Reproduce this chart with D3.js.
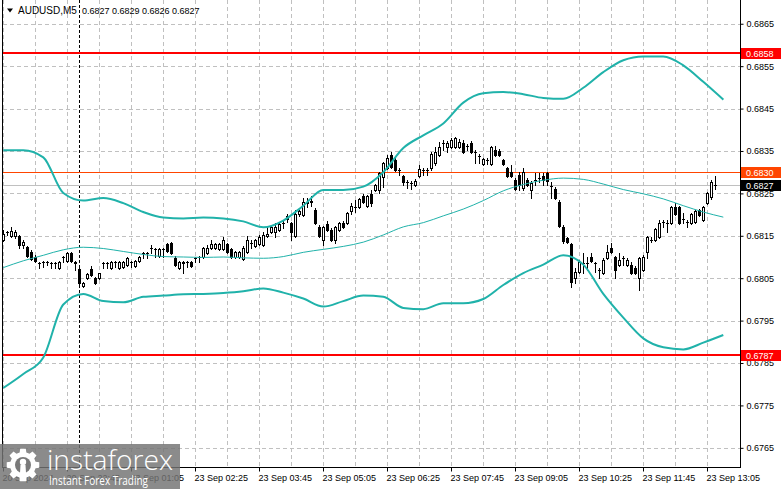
<!DOCTYPE html>
<html><head><meta charset="utf-8">
<script src="https://cdn.jsdelivr.net/npm/d3@7"></script>
<style>html,body{margin:0;padding:0;background:#fff;overflow:hidden}
svg{display:block;font-family:"Liberation Sans",Arial,sans-serif}</style>
</head><body><svg id="c" width="781" height="489"></svg>
<script>
// ---------------- DATA ----------------
const symbolName = "AUDUSD,M5";
const lastBarOHLC = ["0.6827", "0.6829", "0.6826", "0.6827"];
const firstBarIndex = -19; // bar 0 = 23 Sep 00:00 (M5 bars)
const opens = [
0.68140,0.68159,0.68150,0.68150,0.68150,0.68128,0.68124,0.68112,0.68100,0.68086,
0.68088,0.68088,0.68086,0.68086,0.68074,0.68100,0.68091,0.68109,0.68088,0.68072,
0.68032,0.68051,0.68072,0.68051,0.68051,0.68086,0.68086,0.68074,0.68088,0.68074,
0.68076,0.68081,0.68088,0.68079,0.68091,0.68109,0.68109,0.68121,0.68119,0.68102,
0.68119,0.68131,0.68133,0.68098,0.68074,0.68088,0.68088,0.68088,0.68098,0.68100,
0.68100,0.68109,0.68121,0.68121,0.68119,0.68119,0.68131,0.68119,0.68100,0.68100,
0.68095,0.68112,0.68133,0.68126,0.68131,0.68128,0.68150,0.68159,0.68159,0.68164,
0.68180,0.68190,0.68180,0.68150,0.68201,0.68199,0.68227,0.68230,0.68211,0.68171,
0.68140,0.68178,0.68164,0.68140,0.68164,0.68180,0.68180,0.68208,0.68218,0.68218,
0.68244,0.68220,0.68249,0.68258,0.68258,0.68289,0.68310,0.68341,0.68329,0.68305,
0.68291,0.68277,0.68274,0.68270,0.68291,0.68305,0.68305,0.68310,0.68322,0.68341,
0.68369,0.68359,0.68359,0.68359,0.68359,0.68369,0.68362,0.68369,0.68348,0.68338,
0.68319,0.68329,0.68319,0.68352,0.68350,0.68329,0.68310,0.68300,0.68282,0.68293,
0.68263,0.68282,0.68258,0.68282,0.68286,0.68291,0.68298,0.68267,0.68260,0.68230,
0.68171,0.68145,0.68131,0.68051,0.68065,0.68086,0.68086,0.68100,0.68086,0.68069,
0.68062,0.68098,0.68121,0.68100,0.68081,0.68098,0.68081,0.68081,0.68074,0.68051,
0.68069,0.68112,0.68140,0.68140,0.68147,0.68182,0.68180,0.68180,0.68218,0.68218,
0.68190,0.68182,0.68180,0.68182,0.68211,0.68187,0.68227,0.68241,0.68270];
const highs = [
0.68164,0.68161,0.68171,0.68164,0.68152,0.68140,0.68126,0.68117,0.68105,0.68088,
0.68091,0.68091,0.68088,0.68088,0.68091,0.68102,0.68112,0.68112,0.68091,0.68081,
0.68041,0.68062,0.68079,0.68053,0.68062,0.68088,0.68088,0.68091,0.68091,0.68091,
0.68091,0.68100,0.68091,0.68093,0.68102,0.68112,0.68112,0.68128,0.68121,0.68121,
0.68121,0.68133,0.68135,0.68102,0.68091,0.68091,0.68091,0.68091,0.68100,0.68102,
0.68124,0.68128,0.68140,0.68133,0.68133,0.68147,0.68133,0.68121,0.68114,0.68114,
0.68126,0.68150,0.68140,0.68142,0.68152,0.68159,0.68171,0.68173,0.68180,0.68182,
0.68187,0.68201,0.68182,0.68211,0.68211,0.68239,0.68239,0.68244,0.68215,0.68175,
0.68173,0.68185,0.68168,0.68173,0.68182,0.68185,0.68206,0.68227,0.68234,0.68239,
0.68249,0.68246,0.68258,0.68272,0.68300,0.68324,0.68341,0.68348,0.68333,0.68310,
0.68293,0.68282,0.68279,0.68284,0.68317,0.68310,0.68310,0.68348,0.68359,0.68371,
0.68376,0.68373,0.68381,0.68383,0.68378,0.68376,0.68366,0.68373,0.68352,0.68343,
0.68333,0.68333,0.68362,0.68362,0.68355,0.68331,0.68312,0.68317,0.68286,0.68300,
0.68310,0.68286,0.68279,0.68298,0.68298,0.68298,0.68300,0.68277,0.68265,0.68234,
0.68175,0.68147,0.68133,0.68074,0.68093,0.68109,0.68100,0.68109,0.68088,0.68074,
0.68098,0.68128,0.68133,0.68102,0.68109,0.68102,0.68098,0.68088,0.68079,0.68100,
0.68105,0.68150,0.68147,0.68168,0.68187,0.68187,0.68187,0.68220,0.68227,0.68220,
0.68204,0.68187,0.68204,0.68211,0.68213,0.68220,0.68253,0.68282,0.68290];
const lows = [
0.68138,0.68152,0.68147,0.68145,0.68121,0.68121,0.68100,0.68093,0.68088,0.68074,
0.68076,0.68081,0.68074,0.68074,0.68072,0.68088,0.68088,0.68088,0.68069,0.68029,
0.68029,0.68048,0.68055,0.68036,0.68048,0.68074,0.68074,0.68072,0.68076,0.68072,
0.68074,0.68079,0.68076,0.68076,0.68088,0.68098,0.68098,0.68109,0.68100,0.68100,
0.68100,0.68112,0.68107,0.68079,0.68072,0.68062,0.68076,0.68076,0.68088,0.68088,
0.68098,0.68107,0.68119,0.68119,0.68117,0.68117,0.68109,0.68098,0.68098,0.68098,
0.68093,0.68109,0.68121,0.68124,0.68128,0.68126,0.68147,0.68157,0.68147,0.68161,
0.68168,0.68182,0.68140,0.68147,0.68197,0.68197,0.68218,0.68220,0.68178,0.68147,
0.68128,0.68161,0.68138,0.68133,0.68161,0.68168,0.68178,0.68201,0.68206,0.68215,
0.68227,0.68218,0.68220,0.68256,0.68251,0.68265,0.68307,0.68310,0.68303,0.68293,
0.68270,0.68263,0.68260,0.68267,0.68289,0.68293,0.68293,0.68305,0.68317,0.68338,
0.68352,0.68348,0.68357,0.68357,0.68357,0.68345,0.68352,0.68345,0.68322,0.68322,
0.68317,0.68319,0.68317,0.68338,0.68338,0.68317,0.68289,0.68289,0.68258,0.68258,
0.68258,0.68267,0.68239,0.68270,0.68277,0.68270,0.68270,0.68239,0.68237,0.68171,
0.68133,0.68133,0.68029,0.68039,0.68062,0.68062,0.68069,0.68088,0.68065,0.68051,
0.68060,0.68095,0.68109,0.68051,0.68079,0.68081,0.68079,0.68060,0.68060,0.68022,
0.68067,0.68098,0.68135,0.68138,0.68145,0.68171,0.68159,0.68178,0.68199,0.68178,
0.68180,0.68171,0.68178,0.68180,0.68197,0.68185,0.68225,0.68237,0.68260];
const closes = [
0.68154,0.68159,0.68161,0.68159,0.68128,0.68135,0.68102,0.68095,0.68091,0.68086,
0.68088,0.68088,0.68086,0.68086,0.68088,0.68100,0.68109,0.68091,0.68086,0.68039,
0.68039,0.68060,0.68058,0.68039,0.68062,0.68086,0.68086,0.68088,0.68088,0.68088,
0.68088,0.68098,0.68088,0.68091,0.68100,0.68109,0.68109,0.68121,0.68119,0.68119,
0.68119,0.68114,0.68109,0.68081,0.68088,0.68086,0.68088,0.68079,0.68098,0.68100,
0.68121,0.68121,0.68131,0.68131,0.68131,0.68140,0.68112,0.68100,0.68112,0.68112,
0.68121,0.68140,0.68133,0.68140,0.68147,0.68152,0.68154,0.68171,0.68171,0.68178,
0.68180,0.68197,0.68159,0.68201,0.68208,0.68230,0.68230,0.68232,0.68180,0.68150,
0.68171,0.68164,0.68140,0.68171,0.68180,0.68171,0.68204,0.68220,0.68218,0.68237,
0.68230,0.68244,0.68227,0.68270,0.68298,0.68322,0.68333,0.68312,0.68305,0.68305,
0.68277,0.68277,0.68274,0.68279,0.68307,0.68305,0.68305,0.68343,0.68348,0.68359,
0.68369,0.68369,0.68376,0.68381,0.68371,0.68348,0.68362,0.68348,0.68348,0.68338,
0.68331,0.68329,0.68359,0.68341,0.68341,0.68319,0.68291,0.68291,0.68260,0.68270,
0.68300,0.68270,0.68274,0.68282,0.68286,0.68282,0.68279,0.68267,0.68239,0.68173,
0.68138,0.68135,0.68041,0.68065,0.68088,0.68086,0.68086,0.68091,0.68086,0.68069,
0.68093,0.68112,0.68112,0.68069,0.68093,0.68098,0.68093,0.68062,0.68062,0.68098,
0.68100,0.68147,0.68140,0.68166,0.68180,0.68182,0.68180,0.68218,0.68201,0.68180,
0.68190,0.68182,0.68201,0.68208,0.68199,0.68218,0.68251,0.68277,0.68270];

// Bollinger bands, read every 5 bars
const bandIndex = [-19,-14,-9,-4,1,6,11,16,21,26,31,36,41,46,51,56,61,66,71,76,81,86,91,96,101,106,111,116,121,126,131,136,141,146,151,156,161];
const upperBand = [0.68352,0.68352,0.68335,0.68251,0.68233,0.68239,0.68227,0.68206,0.68193,0.68191,0.68193,0.68191,0.68184,0.68170,0.68186,0.68221,0.68258,0.68258,0.68266,0.68300,0.68357,0.68387,0.68415,0.68464,0.68486,0.68489,0.68484,0.68475,0.68473,0.68499,0.68536,0.68564,0.68573,0.68573,0.68552,0.68513,0.68471];
const middleBand = [0.68075,0.68091,0.68104,0.68117,0.68123,0.68120,0.68113,0.68106,0.68101,0.68100,0.68099,0.68100,0.68098,0.68097,0.68101,0.68111,0.68118,0.68125,0.68135,0.68152,0.68171,0.68181,0.68197,0.68213,0.68233,0.68256,0.68271,0.68281,0.68286,0.68283,0.68272,0.68259,0.68249,0.68237,0.68221,0.68206,0.68194];
const lowerBand = [0.67791,0.67824,0.67863,0.67988,0.68013,0.67996,0.67993,0.68006,0.68009,0.68012,0.68013,0.68015,0.68019,0.68026,0.68016,0.68002,0.67983,0.67996,0.68009,0.68006,0.67980,0.67977,0.67991,0.67991,0.68001,0.68034,0.68062,0.68082,0.68104,0.68082,0.68013,0.67957,0.67908,0.67887,0.67882,0.67898,0.67916];

const priceTicks = [0.6865,0.6855,0.6845,0.6835,0.6825,0.6815,0.6805,0.6795,0.6785,0.6775,0.6765];
const timeTickIndex = [-19,-3,13,29,45,61,77,93,109,125,141,157];
const timeTickLabels = ["20 Sep 2024","20 Sep 22:45","23 Sep 01:05","23 Sep 02:25","23 Sep 03:45","23 Sep 05:05","23 Sep 06:25","23 Sep 07:45","23 Sep 09:05","23 Sep 10:25","23 Sep 11:45","23 Sep 13:05"];
const levelPrices = [0.6858, 0.6830, 0.6787];
const levelLabels = ["0.6858", "0.6830", "0.6787"];
const bidPrice = 0.6827;
const bidLabel = "0.6827";
const daySeparatorIndex = 0;

// ---------------- CHART ----------------
const svg = d3.select("#c");
const L = 2.5, R = 740.5, B = 467.5;
const y = d3.scaleLinear().domain([0.676048, 0.68706]).range([467, 0]);
const x = d3.scaleLinear().domain([-19, 161]).range([3.3, 723.3]);
const px = i => Math.floor(x(i));

const plot = svg.append("g");
svg.append("defs").append("clipPath").attr("id","clip")
  .append("rect").attr("x",3).attr("y",0).attr("width",737).attr("height",467);
plot.attr("clip-path","url(#clip)");

// grid
const gridIdx = d3.range(-19, 160, 8);
plot.selectAll(".vg").data(gridIdx).join("line")
  .attr("x1", d => px(d)+0.5).attr("x2", d => px(d)+0.5)
  .attr("y1", 0).attr("y2", 467)
  .attr("stroke","#c0c0c0").attr("stroke-dasharray","4,3").attr("shape-rendering","crispEdges");
plot.selectAll(".hg").data(priceTicks).join("line")
  .attr("x1", 3).attr("x2", 740)
  .attr("y1", d => Math.round(y(d))+0.5).attr("y2", d => Math.round(y(d))+0.5)
  .attr("stroke","#c0c0c0").attr("stroke-dasharray","4,3").attr("shape-rendering","crispEdges");

// day separator
plot.append("line")
  .attr("x1", px(daySeparatorIndex)+0.5).attr("x2", px(daySeparatorIndex)+0.5)
  .attr("y1", 0).attr("y2", 467)
  .attr("stroke","#000").attr("stroke-dasharray","3,2").attr("shape-rendering","crispEdges");

// bid line
plot.append("line").attr("x1",3).attr("x2",740)
  .attr("y1", Math.round(y(bidPrice))+0.5).attr("y2", Math.round(y(bidPrice))+0.5)
  .attr("stroke","#c0c0c0").attr("shape-rendering","crispEdges");

// level lines
const levelColors = ["#ff0000", "#ff4500", "#ff0000"];
const levelWidths = [2, 1, 2];
levelPrices.forEach((p, k) => {
  const yy = levelWidths[k] === 2 ? Math.round(y(p)) : Math.round(y(p)) + 0.5;
  plot.append("line").attr("x1",3).attr("x2",740).attr("y1",yy).attr("y2",yy)
    .attr("stroke", levelColors[k]).attr("stroke-width", levelWidths[k]).attr("shape-rendering","crispEdges");
});

// candles
const bars = opens.map((o, k) => ({i: firstBarIndex + k, o, h: highs[k], l: lows[k], c: closes[k]}));
const cg = plot.append("g").attr("shape-rendering","crispEdges");
bars.forEach(b => {
  const cx = px(b.i);
  const yh = Math.round(y(b.h)), yl = Math.round(y(b.l));
  cg.append("line").attr("x1",cx+0.5).attr("x2",cx+0.5).attr("y1",yh).attr("y2",yl+1).attr("stroke","#000");
  const top = Math.round(y(Math.max(b.o,b.c))), bot = Math.round(y(Math.min(b.o,b.c)));
  if (bot - top < 1) {
    cg.append("line").attr("x1",cx-1).attr("x2",cx+2).attr("y1",top+0.5).attr("y2",top+0.5).attr("stroke","#000");
  } else {
    cg.append("rect").attr("x",cx-0.5).attr("y",top+0.5).attr("width",2).attr("height",bot-top)
      .attr("fill", b.c >= b.o ? "#fff" : "#000").attr("stroke","#000");
  }
});

// Bollinger bands
const bandLine = arr => d3.line().x((d,k) => x(bandIndex[k])).y(d => y(d)).curve(d3.curveMonotoneX)(arr);
plot.append("path").attr("d", bandLine(upperBand)).attr("fill","none").attr("stroke","#20b2aa").attr("stroke-width",2);
plot.append("path").attr("d", bandLine(lowerBand)).attr("fill","none").attr("stroke","#20b2aa").attr("stroke-width",2);
plot.append("path").attr("d", bandLine(middleBand)).attr("fill","none").attr("stroke","#20b2aa").attr("stroke-width",1);

// frame
svg.append("path").attr("d", `M${L},0V${B}H${R}V0`).attr("fill","none").attr("stroke","#000").attr("shape-rendering","crispEdges");

// price axis
const yAxis = d3.axisRight(y).tickValues(priceTicks).tickFormat(d3.format(".4f")).tickSize(3).tickPadding(3);
const ya = svg.append("g").attr("transform", `translate(${R},0)`).call(yAxis);
ya.select(".domain").remove();
ya.selectAll("text").attr("font-size", 9).attr("fill","#000").attr("font-family","Liberation Sans, Arial, sans-serif");
ya.selectAll("line").attr("stroke","#000");

// time axis
const xAxis = d3.axisBottom(x).tickValues(timeTickIndex).tickFormat((d,k) => timeTickLabels[k]).tickSize(4).tickPadding(3);
const xa = svg.append("g").attr("transform", `translate(0.5,${B})`).call(xAxis);
xa.select(".domain").remove();
xa.selectAll(".tick").attr("transform", d => `translate(${px(d)},0)`);
xa.selectAll("text").attr("font-size", 9).attr("fill","#000").attr("text-anchor","start").attr("x",-1)
  .attr("font-family","Liberation Sans, Arial, sans-serif");
xa.selectAll("line").attr("stroke","#000");

// price boxes
const boxes = [
  {p: levelPrices[0], t: levelLabels[0], c: levelColors[0]},
  {p: levelPrices[1], t: levelLabels[1], c: "#ff4500"},
  {p: bidPrice, t: bidLabel, c: "#000"},
  {p: levelPrices[2], t: levelLabels[2], c: levelColors[2]}
];
boxes.forEach(b => {
  const yy = Math.round(y(b.p));
  svg.append("rect").attr("x", 741).attr("y", yy - 5).attr("width", 40).attr("height", 11).attr("fill", b.c);
  svg.append("text").attr("x", 746).attr("y", yy + 0.5).attr("dy","0.35em").attr("font-size",9)
    .attr("fill","#fff").text(b.t);
});

// title
svg.append("path").attr("d","M7,8.5L13,8.5L10,12.5Z").attr("fill","#000");
svg.append("text").attr("x",18).attr("y",14).attr("font-size",10).attr("fill","#000").text(symbolName);
svg.append("text").attr("x",82).attr("y",14).attr("font-size",9).attr("fill","#000").text(lastBarOHLC.join(" "));

// watermark
const wm = svg.append("g");
wm.append("rect").attr("x",0).attr("y",444).attr("width",180).attr("height",45).attr("fill","rgba(116,116,116,0.83)");
const gx = 23, gy = 465, teeth = 8, rO = 16.5, rI = 13;
const pts = [];
for (let k = 0; k < teeth; k++) {
  const a0 = (k / teeth) * 2 * Math.PI;
  const w = Math.PI / teeth * 0.55;
  pts.push([a0 - w*1.2, rI],[a0 - w*0.8, rO],[a0 + w*0.8, rO],[a0 + w*1.2, rI]);
}
const gearPath = d3.lineRadial().angle(d => d[0]).radius(d => d[1]).curve(d3.curveLinearClosed)(pts);
wm.append("path").attr("d", gearPath).attr("transform", `translate(${gx},${gy})`).attr("fill","#fff");
wm.append("circle").attr("cx",gx).attr("cy",gy).attr("r",8).attr("fill","#7a7a7a");
wm.append("circle").attr("cx",gx).attr("cy",gy-3).attr("r",3.2).attr("fill","#fff");
wm.append("path").attr("d",`M${gx-2.5},${gy}L${gx+2.5},${gy}L${gx+3.5},${gy+16}L${gx-3.5},${gy+16}Z`).attr("fill","#fff");
wm.append("text").attr("x",47).attr("y",470).attr("font-size",27).attr("fill","#fff")
  .attr("font-family","Open Sans, Liberation Sans, sans-serif").attr("font-weight",300)
  .attr("textLength",126).attr("lengthAdjust","spacingAndGlyphs").text("instaforex");
wm.append("text").attr("x",49).attr("y",485).attr("font-size",12.5).attr("fill","#fff")
  .attr("font-family","Open Sans, Liberation Sans, sans-serif")
  .attr("textLength",99).attr("lengthAdjust","spacingAndGlyphs").text("Instant Forex Trading");
</script></body></html>
